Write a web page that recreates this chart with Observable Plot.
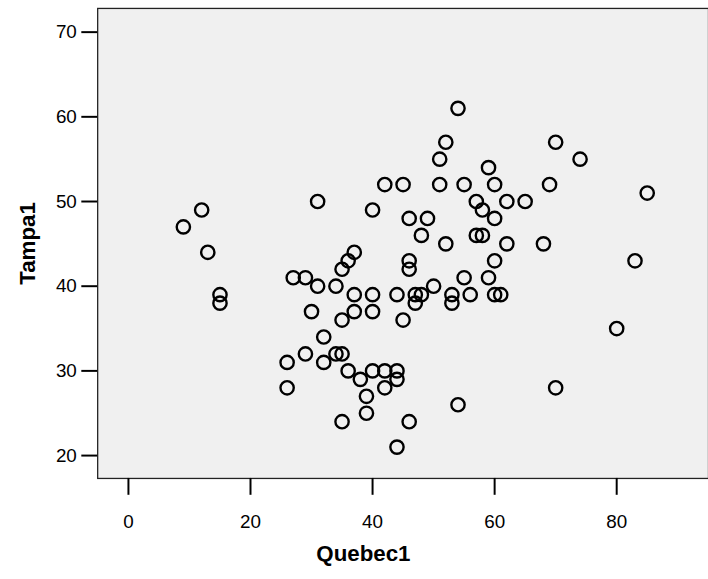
<!DOCTYPE html>
<html>
<head>
<meta charset="utf-8">
<script src="https://cdn.jsdelivr.net/npm/d3@7"></script>
<script src="https://cdn.jsdelivr.net/npm/@observablehq/plot@0.6"></script>
<style>
  html, body { margin: 0; padding: 0; background: #fff; overflow: hidden; }
  #chart svg { display: block; }
</style>
</head>
<body>
<div id="chart"></div>
<script>
const quebec = [9,12,13,15,15,26,26,27,29,29,30,31,31,32,32,34,34,35,35,35,35,36,36,37,37,37,38,39,39,40,40,40,40,42,42,42,44,44,44,44,45,45,46,46,46,46,47,47,48,48,49,50,51,51,52,52,53,53,54,54,55,55,56,57,57,58,58,59,59,60,60,60,60,61,62,62,65,68,69,70,70,74,80,83,85];
const tampa  = [47,49,44,39,38,31,28,41,41,32,37,50,40,34,31,40,32,32,42,36,24,43,30,44,39,37,29,27,25,49,39,37,30,52,30,28,39,30,29,21,52,36,48,43,42,24,39,38,46,39,48,40,55,52,57,45,39,38,61,26,52,41,39,50,46,49,46,54,41,52,48,43,39,39,50,45,50,45,52,57,28,55,35,43,51];
const xTicks = [0,20,40,60,80];
const yTicks = [20,30,40,50,60,70];
const xTitle = "Quebec1";
const yTitle = "Tampa1";

const data = quebec.map((q, i) => ({q, t: tampa[i]}));

const W = 714;
const chart = Plot.plot({
  width: W,
  height: 579,
  marginLeft: 98,
  marginRight: 0,
  marginTop: 8,
  marginBottom: 97,
  style: {fontFamily: "'Liberation Sans', Arial, sans-serif", background: "#fff", overflow: "visible"},
  x: {domain: [-5.04, -5.04 + (W - 98) / 6.155], axis: null},
  y: {domain: [17.3, 72.8], axis: null},
  marks: [
    Plot.frame({fill: "#f0f0f0", stroke: "#222", strokeWidth: 1.3}),
    Plot.dot(data, {x: "q", y: "t", r: 6.7, stroke: "black", strokeWidth: 2.4, fill: "none"}),
    Plot.axisX({ticks: xTicks, tickSize: 17, tickPadding: 19, strokeWidth: 2, color: "black", fontSize: 19, label: null}),
    Plot.axisY({ticks: yTicks, tickSize: 16, tickPadding: 5, strokeWidth: 2, color: "black", fontSize: 19, label: null}),
    Plot.text([xTitle], {frameAnchor: "bottom", dy: 83, dx: -40, fontSize: 22.5, fontWeight: "bold", fill: "black"}),
    Plot.text([yTitle], {frameAnchor: "left", dx: -70, rotate: -90, textAnchor: "middle", fontSize: 22.5, fontWeight: "bold", fill: "black"})
  ]
});
document.getElementById("chart").appendChild(chart);
</script>
</body>
</html>
